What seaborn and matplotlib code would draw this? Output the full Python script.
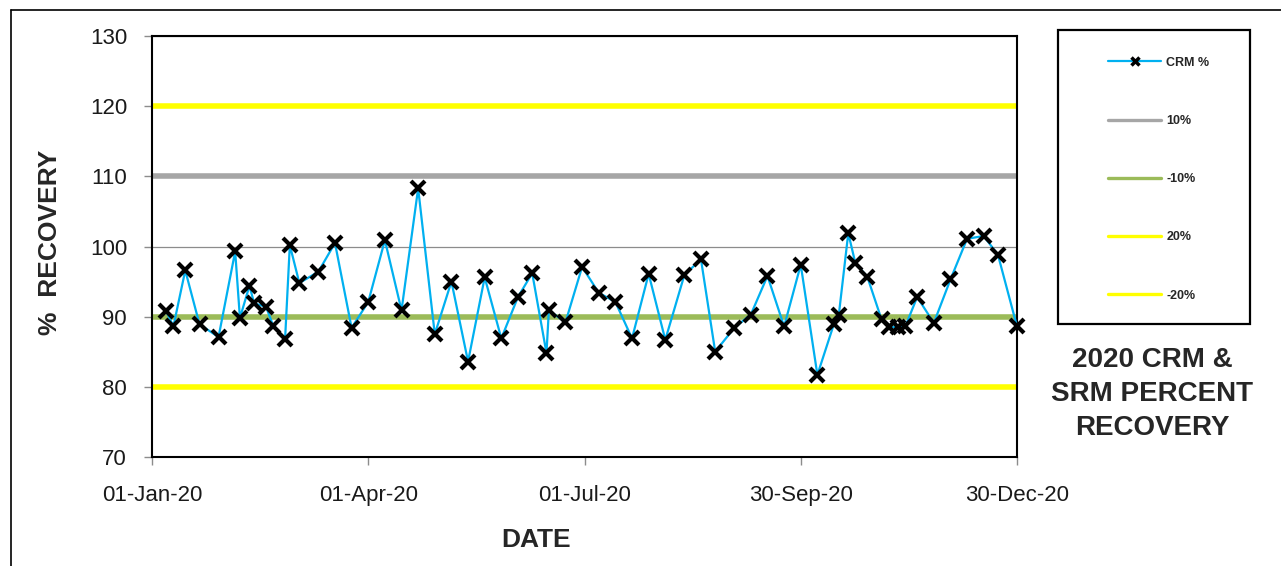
import pandas as pd
import matplotlib
matplotlib.use('Agg')
import matplotlib.pyplot as plt
import matplotlib.dates as mdates
from matplotlib.lines import Line2D
from matplotlib.patches import Rectangle
import seaborn as sns

# CRM % recovery readings, days counted from 01-Jan-2020
days = [6, 9, 14, 20, 28, 35, 37, 41, 43, 48, 51, 56, 58, 62, 70, 77, 84, 91,
        98, 105, 112, 119, 126, 133, 140, 147, 154, 160, 166, 167, 174, 181,
        188, 195, 202, 209, 216, 224, 231, 237, 245, 252, 259, 266, 273, 280,
        287, 289, 293, 296, 301, 307, 310, 314, 317, 322, 329, 336, 343, 350,
        356, 364]
crm = [90.8, 88.6, 96.6, 88.9, 87.1, 99.3, 89.8, 94.4, 91.9, 91.4, 88.7, 86.8,
       100.2, 94.8, 96.4, 100.5, 88.4, 92.1, 100.9, 90.9, 108.3, 87.5, 95.0,
       83.6, 95.6, 86.9, 92.8, 96.2, 84.8, 90.9, 89.2, 97.1, 93.4, 92.1, 86.9,
       96.1, 86.7, 95.9, 98.2, 85.0, 88.4, 90.3, 95.8, 88.6, 97.4, 81.7, 89.0,
       90.2, 101.9, 97.6, 95.7, 89.6, 88.5, 88.5, 88.6, 92.8, 89.1, 95.3, 101.1,
       101.5, 98.8, 88.6]

# control limits
limit_labels = ['10%', '-10%', '20%', '-20%']
limit_values = [110, 90, 120, 80]
limit_colors = ['#A6A6A6', '#9BBB59', '#FFFF00', '#FFFF00']

tick_dates = ['2020-01-01', '2020-04-01', '2020-07-01', '2020-09-30', '2020-12-30']

df = pd.DataFrame({'Date': pd.Timestamp('2020-01-01') + pd.to_timedelta(days, unit='D'),
                   'CRM': crm})

sns.set_style('white')
plt.rcParams['font.family'] = ['Liberation Sans', 'DejaVu Sans']

W, H = 1281, 566
fig = plt.figure(figsize=(W / 100, H / 100), dpi=100)
ax = fig.add_axes([152 / W, 1 - 457 / H, (1017 - 152) / W, (457 - 36) / H])

for lab, val, col in zip(limit_labels, limit_values, limit_colors):
    ax.axhline(val, color=col, lw=4, label=lab, zorder=2)

sns.lineplot(data=df, x='Date', y='CRM', ax=ax, color='#00B0F0', lw=1.6,
             marker='x', markersize=10.5, markeredgewidth=3,
             markeredgecolor='black', label='CRM %', zorder=3, clip_on=False)

ax.set_ylim(70, 130)
ax.set_yticks(range(70, 131, 10))
ax.set_xlim(pd.Timestamp('2020-01-01'), pd.Timestamp('2020-12-30'))
ax.set_xticks(pd.to_datetime(tick_dates))
ax.xaxis.set_major_formatter(mdates.DateFormatter('%d-%b-%y'))
ax.yaxis.grid(True, color='#8C8C8C', lw=0.9, zorder=1)
ax.set_axisbelow(True)
ax.set_xlabel('')
ax.set_ylabel('')
for s in ax.spines.values():
    s.set_color('black')
    s.set_linewidth(1.5)
ax.tick_params(axis='both', bottom=True, left=True, direction='out', length=6,
               width=1, color='#8C8C8C', labelsize=16, labelcolor='#1a1a1a')
ax.tick_params(axis='x', pad=14)
ax.tick_params(axis='y', pad=12)

# legend in its own box to the right
handles, labels = ax.get_legend_handles_labels()
if ax.get_legend() is not None:
    ax.get_legend().remove()
order = [labels.index(l) for l in ['CRM %', '10%', '-10%', '20%', '-20%']]
leg = fig.legend([handles[i] for i in order], [labels[i] for i in order],
                 loc='upper left', bbox_to_anchor=(1102 / W, 1 - 50.5 / H),
                 frameon=False, borderpad=0, handlelength=4.25, handletextpad=0.4,
                 labelspacing=3.7, prop={'size': 9, 'weight': 'bold'})
for h in leg.legend_handles:
    h.set_linewidth(2.4)
leg.legend_handles[0].set_linewidth(1.6)
leg.legend_handles[0].set_markersize(6)
leg.legend_handles[0].set_markeredgewidth(2.5)
fig.add_artist(Rectangle((1058 / W, 1 - 324 / H), (1250 - 1058) / W, (324 - 30) / H,
                         transform=fig.transFigure, fill=False, ec='black', lw=1.6))

fig.text(1152 / W, 1 - 394 / H, '2020 CRM &\nSRM PERCENT\nRECOVERY', ha='center',
         va='center', fontsize=20, fontweight='bold', linespacing=1.38)
fig.text(50 / W, 1 - 242 / H, '%  RECOVERY', rotation=90, ha='center', va='center',
         fontsize=19, fontweight='bold')
fig.text(536 / W, 1 - 540 / H, 'DATE', ha='center', va='center', fontsize=19,
         fontweight='bold')

# outer chart border (top and left edges visible)
fig.add_artist(Line2D([11 / W, 1], [1 - 10 / H, 1 - 10 / H], transform=fig.transFigure,
                      color='black', lw=1.2))
fig.add_artist(Line2D([11 / W, 11 / W], [0, 1 - 10 / H], transform=fig.transFigure,
                      color='black', lw=1.2))

fig.savefig('out.png', dpi=100)
